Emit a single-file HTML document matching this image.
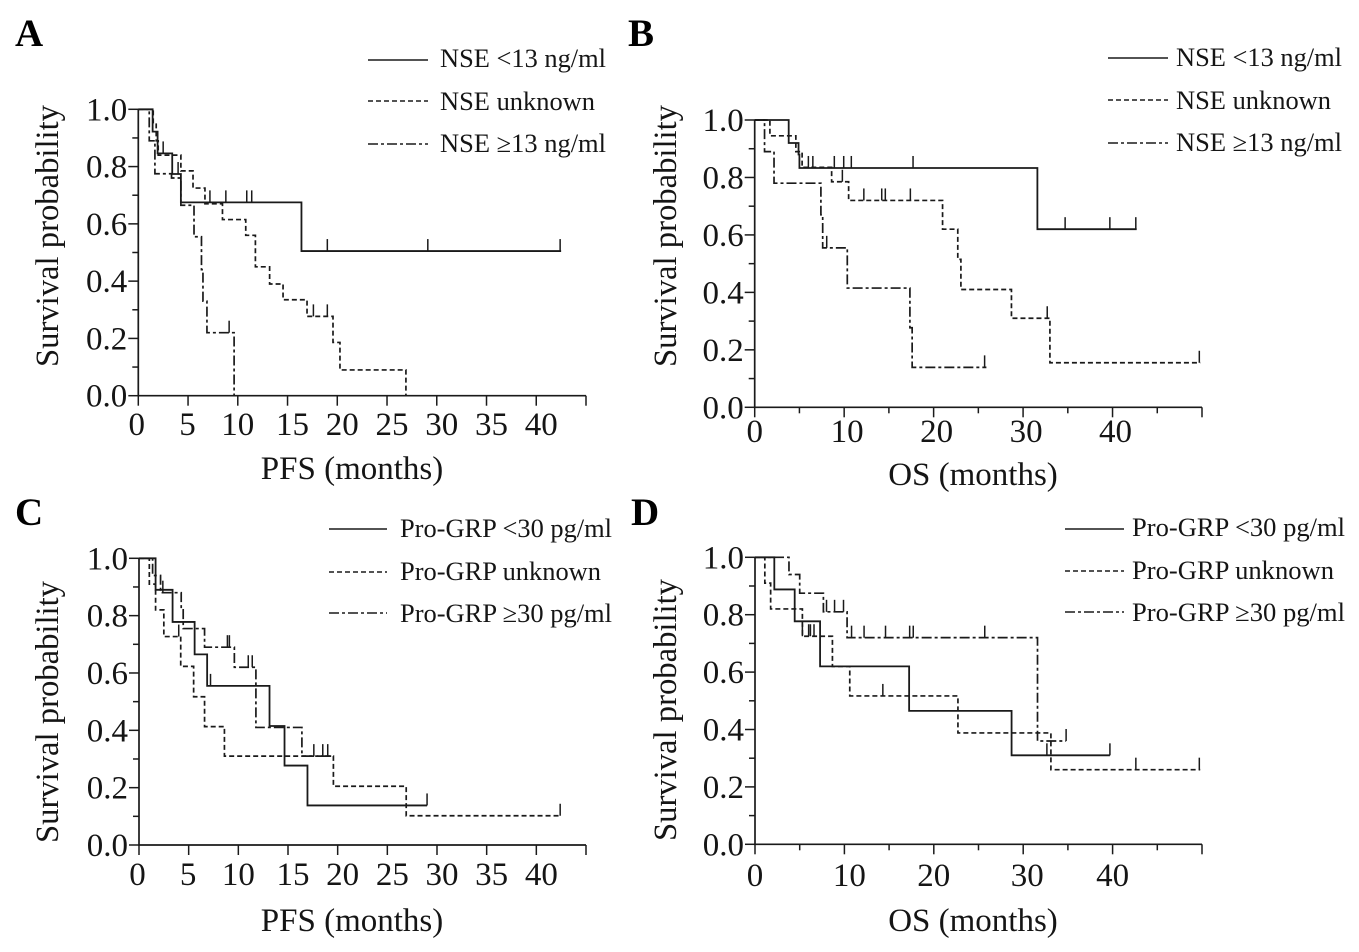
<!DOCTYPE html>
<html lang="en">
<head>
<meta charset="utf-8">
<title>Kaplan-Meier survival curves by NSE and Pro-GRP</title>
<style>
html,body{margin:0;padding:0;background:#fff;width:1359px;height:952px;overflow:hidden}
svg{display:block}
text{font-family:"Liberation Serif","Times New Roman",serif;fill:#151515}
.tick{font-size:33px}
.title{font-size:33px}
.leg{font-size:26px}
.letter{font-size:39px;font-weight:bold;fill:#000}
</style>
</head>
<body>
<svg id="figure" width="1359" height="952" viewBox="0 0 1359 952" xmlns="http://www.w3.org/2000/svg">
  <text class="letter" x="15" y="46">A</text>
  <text class="letter" x="628" y="46">B</text>
  <text class="letter" x="15" y="525">C</text>
  <text class="letter" x="631" y="525">D</text>

  <text class="title" x="352" y="479" text-anchor="middle">PFS (months)</text>
  <text class="title" x="973" y="485" text-anchor="middle">OS (months)</text>
  <text class="title" x="352" y="931" text-anchor="middle">PFS (months)</text>
  <text class="title" x="973" y="931" text-anchor="middle">OS (months)</text>

  <text class="title" transform="translate(58 236) rotate(-90)" text-anchor="middle" textLength="262" lengthAdjust="spacingAndGlyphs">Survival probability</text>
  <text class="title" transform="translate(676 236) rotate(-90)" text-anchor="middle" textLength="262" lengthAdjust="spacingAndGlyphs">Survival probability</text>
  <text class="title" transform="translate(58 712) rotate(-90)" text-anchor="middle" textLength="262" lengthAdjust="spacingAndGlyphs">Survival probability</text>
  <text class="title" transform="translate(676 710) rotate(-90)" text-anchor="middle" textLength="262" lengthAdjust="spacingAndGlyphs">Survival probability</text>

  <g fill="none" stroke="#1a1a1a" stroke-width="1.5">
    <line x1="368" x2="428" y1="60" y2="60"/>
    <line x1="368" x2="428" y1="101" y2="101" stroke-dasharray="5 3"/>
    <line x1="368" x2="428" y1="144" y2="144" stroke-dasharray="10 3 3 3"/>
  </g>
  <text class="leg" x="440" y="67" textLength="166" lengthAdjust="spacingAndGlyphs">NSE &lt;13 ng/ml</text>
  <text class="leg" x="440" y="110" textLength="155" lengthAdjust="spacingAndGlyphs">NSE unknown</text>
  <text class="leg" x="440" y="152" textLength="166" lengthAdjust="spacingAndGlyphs">NSE ≥13 ng/ml</text>

  <g fill="none" stroke="#1a1a1a" stroke-width="1.5">
    <line x1="1108" x2="1168" y1="58" y2="58"/>
    <line x1="1108" x2="1168" y1="100" y2="100" stroke-dasharray="5 3"/>
    <line x1="1108" x2="1168" y1="143" y2="143" stroke-dasharray="10 3 3 3"/>
  </g>
  <text class="leg" x="1176" y="66" textLength="166" lengthAdjust="spacingAndGlyphs">NSE &lt;13 ng/ml</text>
  <text class="leg" x="1176" y="109" textLength="155" lengthAdjust="spacingAndGlyphs">NSE unknown</text>
  <text class="leg" x="1176" y="151" textLength="166" lengthAdjust="spacingAndGlyphs">NSE ≥13 ng/ml</text>

  <g fill="none" stroke="#1a1a1a" stroke-width="1.5">
    <line x1="329" x2="387" y1="529" y2="529"/>
    <line x1="329" x2="387" y1="572" y2="572" stroke-dasharray="5 3"/>
    <line x1="329" x2="387" y1="613" y2="613" stroke-dasharray="10 3 3 3"/>
  </g>
  <text class="leg" x="400" y="537" textLength="212" lengthAdjust="spacingAndGlyphs">Pro-GRP &lt;30 pg/ml</text>
  <text class="leg" x="400" y="580" textLength="201" lengthAdjust="spacingAndGlyphs">Pro-GRP unknown</text>
  <text class="leg" x="400" y="622" textLength="212" lengthAdjust="spacingAndGlyphs">Pro-GRP ≥30 pg/ml</text>

  <g fill="none" stroke="#1a1a1a" stroke-width="1.5">
    <line x1="1065" x2="1124" y1="529" y2="529"/>
    <line x1="1065" x2="1124" y1="571" y2="571" stroke-dasharray="5 3"/>
    <line x1="1065" x2="1124" y1="612" y2="612" stroke-dasharray="10 3 3 3"/>
  </g>
  <text class="leg" x="1132" y="536" textLength="213" lengthAdjust="spacingAndGlyphs">Pro-GRP &lt;30 pg/ml</text>
  <text class="leg" x="1132" y="579" textLength="202" lengthAdjust="spacingAndGlyphs">Pro-GRP unknown</text>
  <text class="leg" x="1132" y="621" textLength="213" lengthAdjust="spacingAndGlyphs">Pro-GRP ≥30 pg/ml</text>
</svg>

<script>
// Tick labels
const yTickValues = [0, 0.2, 0.4, 0.6, 0.8, 1.0];
const yMinorValues = [0.1, 0.3, 0.5, 0.7, 0.9];
const xTickValuesPFS = [0, 5, 10, 15, 20, 25, 30, 35, 40];
const xTickValuesOS = [0, 10, 20, 30, 40];

// Panel A: PFS by NSE
const aLowTimes = [0, 1.44, 1.94, 3.41, 4.28, 16.4, 42.5];
const aLowSurv = [1, 0.922, 0.846, 0.774, 0.675, 0.505, 0.505];
const aLowCensor = [2.5, 4.0, 7.2, 8.8, 10.9, 11.4, 19.0, 29.1, 42.4];
const aUnkTimes = [0, 1.5, 1.8, 2.0, 4.28, 5.5, 6.7, 8.46, 10.8, 11.77, 13.2, 14.55, 16.96, 19.57, 20.27, 26.9];
const aUnkSurv = [1, 0.948, 0.89, 0.84, 0.785, 0.725, 0.67, 0.615, 0.56, 0.45, 0.39, 0.335, 0.277, 0.186, 0.09, 0];
const aUnkCensor = [17.6, 19.0];
const aHighTimes = [0, 1.1, 1.67, 3.34, 4.28, 5.6, 6.35, 6.5, 6.9, 9.63];
const aHighSurv = [1, 0.89, 0.775, 0.76, 0.665, 0.555, 0.44, 0.33, 0.22, 0];
const aHighCensor = [9.13];

// Panel B: OS by NSE
const bLowTimes = [0, 3.8, 4.9, 5.0, 31.6, 42.7];
const bLowSurv = [1, 0.92, 0.88, 0.833, 0.62, 0.62];
const bLowCensor = [6.0, 6.5, 8.9, 9.95, 10.8, 17.7, 34.7, 39.7, 42.6];
const bUnkTimes = [0, 1.7, 4.6, 5.3, 8.6, 10.5, 21.0, 22.7, 23.05, 28.7, 33.0, 49.8];
const bUnkSurv = [1, 0.945, 0.89, 0.835, 0.785, 0.72, 0.62, 0.515, 0.41, 0.31, 0.155, 0.155];
const bUnkCensor = [9.8, 12.2, 14.2, 14.6, 17.4, 32.7, 49.7];
const bHighTimes = [0, 1.1, 2.16, 7.4, 7.6, 10.35, 17.35, 17.6, 25.9];
const bHighSurv = [1, 0.89, 0.78, 0.67, 0.555, 0.415, 0.277, 0.139, 0.139];
const bHighCensor = [8.05, 25.7];

// Panel C: PFS by Pro-GRP
const cLowTimes = [0, 1.67, 3.38, 5.6, 6.86, 13.14, 14.65, 16.96, 29.0];
const cLowSurv = [1, 0.89, 0.778, 0.665, 0.555, 0.415, 0.277, 0.138, 0.138];
const cLowCensor = [7.2, 29.0];
const cUnkTimes = [0, 1.04, 1.67, 2.5, 4.2, 5.5, 6.6, 8.6, 19.57, 26.9, 42.5];
const cUnkSurv = [1, 0.91, 0.82, 0.727, 0.623, 0.517, 0.413, 0.31, 0.205, 0.102, 0.102];
const cUnkCensor = [4.0, 42.4];
const cHighTimes = [0, 1.37, 2.17, 4.25, 4.45, 6.6, 9.6, 11.77, 16.4, 19.57];
const cHighSurv = [1, 0.94, 0.88, 0.82, 0.755, 0.69, 0.62, 0.41, 0.31, 0.31];
const cHighCensor = [2.4, 8.9, 9.1, 11.0, 11.4, 17.6, 18.5, 19.0];

// Panel D: OS by Pro-GRP
const dLowTimes = [0, 2.16, 4.44, 7.28, 17.24, 28.7, 39.7];
const dLowSurv = [1, 0.888, 0.777, 0.62, 0.465, 0.31, 0.31];
const dLowCensor = [32.65, 39.7];
const dUnkTimes = [0, 1.1, 1.75, 5.3, 8.66, 10.6, 22.7, 33.1, 49.8];
const dUnkSurv = [1, 0.91, 0.82, 0.725, 0.62, 0.517, 0.388, 0.26, 0.26];
const dUnkCensor = [5.3, 6.0, 6.2, 6.6, 14.3, 42.6, 49.7];
const dHighTimes = [0, 3.8, 5.0, 7.65, 10.3, 31.6, 34.8];
const dHighSurv = [1, 0.94, 0.875, 0.81, 0.72, 0.36, 0.36];
const dHighCensor = [8.0, 8.9, 9.9, 10.8, 12.2, 14.6, 17.3, 17.7, 25.7, 34.8];

const SVG_NS = 'http://www.w3.org/2000/svg';
const figure = document.getElementById('figure');
const DASH_STYLES = {low: 'none', unk: '5 3', high: '10 3 3 3'};

function drawPanel(cfg) {
  const xScale = function (v) { return cfg.left + (v / cfg.xMax) * (cfg.right - cfg.left); };
  const yScale = function (v) { return cfg.bottom - v * (cfg.bottom - cfg.top); };

  const group = document.createElementNS(SVG_NS, 'g');
  
  
  group.setAttribute('fill', 'none');
  group.setAttribute('stroke', '#1a1a1a');
  figure.appendChild(group);

  // axes
  const axisPath = document.createElementNS(SVG_NS, 'path');
  
  
  axisPath.setAttribute('stroke-width', '1.7');
  axisPath.setAttribute('d', 'M' + xScale(0) + ' ' + yScale(1) + 'V' + yScale(0) + 'H' + xScale(cfg.xMax));
  group.appendChild(axisPath);

  // y ticks
  yTickValues.concat(yMinorValues).forEach(function (v) {
    const isMajor = yTickValues.indexOf(v) >= 0;
    const tick = document.createElementNS(SVG_NS, 'line');
    
    
    tick.setAttribute('stroke-width', '1.5');
    tick.setAttribute('x1', xScale(0) - (isMajor ? 10 : 6));
    tick.setAttribute('x2', xScale(0));
    tick.setAttribute('y1', yScale(v));
    tick.setAttribute('y2', yScale(v));
    group.appendChild(tick);
  });
  yTickValues.forEach(function (v) {
    const label = document.createElementNS(SVG_NS, 'text');
    
    
    label.setAttribute('class', 'tick');
    label.setAttribute('stroke', 'none');
    label.setAttribute('text-anchor', 'end');
    label.setAttribute('x', xScale(0) - 11);
    label.setAttribute('y', yScale(v) + 11);
    label.textContent = v.toFixed(1);
    group.appendChild(label);
  });

  // x ticks
  for (let v = 0; v <= cfg.xMax; v += cfg.xStep) {
    const isMajor = v % cfg.xMajorEvery === 0;
    const tick = document.createElementNS(SVG_NS, 'line');
    
    
    tick.setAttribute('stroke-width', '1.5');
    tick.setAttribute('x1', xScale(v));
    tick.setAttribute('x2', xScale(v));
    tick.setAttribute('y1', yScale(0));
    tick.setAttribute('y2', yScale(0) + (isMajor ? 10 : 6));
    group.appendChild(tick);
  }
  cfg.xLabels.forEach(function (v) {
    const label = document.createElementNS(SVG_NS, 'text');
    
    
    label.setAttribute('class', 'tick');
    label.setAttribute('stroke', 'none');
    label.setAttribute('text-anchor', 'middle');
    label.setAttribute('x', xScale(v) + cfg.labelShift(v));
    label.setAttribute('y', cfg.labelBaseline);
    label.textContent = String(v);
    group.appendChild(label);
  });

  // series
  cfg.series.forEach(function (s) {
    let d = 'M' + xScale(s.times[0]) + ' ' + yScale(s.surv[0]);
    for (let i = 1; i < s.times.length; i++) {
      d += 'H' + xScale(s.times[i]) + 'V' + yScale(s.surv[i]);
    }
    const curve = document.createElementNS(SVG_NS, 'path');
    
    
    curve.setAttribute('stroke-width', s.key === 'low' ? '1.8' : '1.7');
    curve.setAttribute('stroke-dasharray', DASH_STYLES[s.key]);
    curve.setAttribute('d', d);
    group.appendChild(curve);

    s.censor.forEach(function (t) {
      let level = s.surv[0];
      for (let i = 0; i < s.times.length; i++) {
        if (s.times[i] <= t) level = s.surv[i];
      }
      const mark = document.createElementNS(SVG_NS, 'line');
      
      
      mark.setAttribute('stroke-width', '1.5');
      mark.setAttribute('x1', xScale(t));
      mark.setAttribute('x2', xScale(t));
      mark.setAttribute('y1', yScale(level));
      mark.setAttribute('y2', yScale(level) - 12);
      group.appendChild(mark);
    });
  });
}

function pfsShift(v) { return v >= 15 ? 5 : (v >= 10 ? 0 : (v === 5 ? -0.5 : -1.5)); }
function osShiftB(v) { return v === 0 ? 0 : 3; }
function osShiftD(v) { return (v === 10) ? 5 : (v === 30 ? 4 : 0); }

drawPanel({
  id: 'a', left: 138.3, right: 586, top: 109.3, bottom: 395.7, xMax: 45, xStep: 5, xMajorEvery: 5,
  xLabels: xTickValuesPFS, labelShift: pfsShift, labelBaseline: 435,
  series: [
    {key: 'low', times: aLowTimes, surv: aLowSurv, censor: aLowCensor},
    {key: 'unk', times: aUnkTimes, surv: aUnkSurv, censor: aUnkCensor},
    {key: 'high', times: aHighTimes, surv: aHighSurv, censor: aHighCensor}
  ]
});
drawPanel({
  id: 'b', left: 754.7, right: 1202, top: 120, bottom: 407.3, xMax: 50, xStep: 5, xMajorEvery: 10,
  xLabels: xTickValuesOS, labelShift: osShiftB, labelBaseline: 442,
  series: [
    {key: 'low', times: bLowTimes, surv: bLowSurv, censor: bLowCensor},
    {key: 'unk', times: bUnkTimes, surv: bUnkSurv, censor: bUnkCensor},
    {key: 'high', times: bHighTimes, surv: bHighSurv, censor: bHighCensor}
  ]
});
drawPanel({
  id: 'c', left: 139, right: 586, top: 558.3, bottom: 845, xMax: 45, xStep: 5, xMajorEvery: 5,
  xLabels: xTickValuesPFS, labelShift: pfsShift, labelBaseline: 885,
  series: [
    {key: 'low', times: cLowTimes, surv: cLowSurv, censor: cLowCensor},
    {key: 'unk', times: cUnkTimes, surv: cUnkSurv, censor: cUnkCensor},
    {key: 'high', times: cHighTimes, surv: cHighSurv, censor: cHighCensor}
  ]
});
drawPanel({
  id: 'd', left: 755, right: 1202, top: 557.3, bottom: 844.3, xMax: 50, xStep: 5, xMajorEvery: 10,
  xLabels: xTickValuesOS, labelShift: osShiftD, labelBaseline: 886,
  series: [
    {key: 'low', times: dLowTimes, surv: dLowSurv, censor: dLowCensor},
    {key: 'unk', times: dUnkTimes, surv: dUnkSurv, censor: dUnkCensor},
    {key: 'high', times: dHighTimes, surv: dHighSurv, censor: dHighCensor}
  ]
});
</script>
</body>
</html>
